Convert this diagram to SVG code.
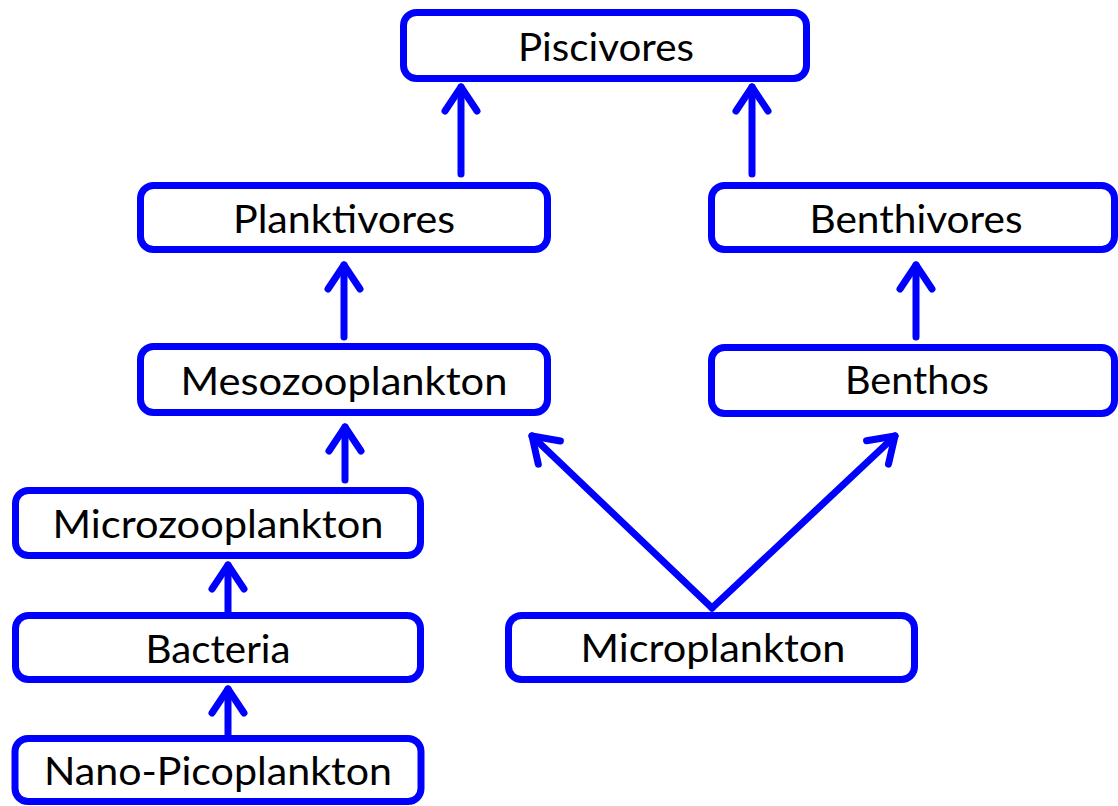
<svg xmlns="http://www.w3.org/2000/svg" width="1118" height="806" viewBox="0 0 1118 806">
  <style>
    .box { fill: #ffffff; stroke: #0000ff; stroke-width: 7; }
    .label { font-family: Lato, "Open Sans", "Liberation Sans", sans-serif; font-size: 39px; fill: #000000; text-anchor: middle; }
    .link { fill: none; stroke: #0000ff; stroke-width: 7; stroke-linecap: round; marker-end: url(#head); }
  </style>
  <defs>
    <!-- open chevron arrowhead, tip at the line end -->
    <marker id="head" markerUnits="userSpaceOnUse" orient="auto" viewBox="-30 -20 34 40" refX="0" refY="0" markerWidth="34" markerHeight="40" overflow="visible">
      <path d="M-24,-16 L0,0 L-24,16" fill="none" stroke="#0000ff" stroke-width="7" stroke-linecap="round" stroke-linejoin="round"/>
    </marker>
  </defs>
  <rect width="1118" height="806" fill="#ffffff"/>

  <g id="connectors">
    <path class="link" d="M461,174 L461,87"/>
    <path class="link" d="M752,174 L752,87"/>
    <path class="link" d="M344,337 L344,265"/>
    <path class="link" d="M916,337 L916,265"/>
    <path class="link" d="M345,480 L345,427"/>
    <path class="link" d="M228,612 L228,565"/>
    <path class="link" d="M228,735 L228,689"/>
    <path class="link" d="M712,608 L532,436"/>
    <path class="link" d="M712,608 L895,436"/>
  </g>

  <g id="piscivores">
    <rect class="box" x="403.5" y="12.5" width="403" height="66" rx="13"/>
    <text class="label" x="606" y="61" textLength="176" lengthAdjust="spacingAndGlyphs">Piscivores</text>
  </g>
  <g id="planktivores">
    <rect class="box" x="140.5" y="185.5" width="407" height="64" rx="13"/>
    <text class="label" x="344" y="233" textLength="222" lengthAdjust="spacingAndGlyphs">Planktivores</text>
  </g>
  <g id="benthivores">
    <rect class="box" x="711.5" y="185.5" width="403" height="64" rx="13"/>
    <text class="label" x="916" y="233" textLength="213" lengthAdjust="spacingAndGlyphs">Benthivores</text>
  </g>
  <g id="mesozooplankton">
    <rect class="box" x="140.5" y="346.5" width="407" height="66" rx="13"/>
    <text class="label" x="344" y="395" textLength="327" lengthAdjust="spacingAndGlyphs">Mesozooplankton</text>
  </g>
  <g id="benthos">
    <rect class="box" x="711.5" y="347.5" width="403" height="66" rx="13"/>
    <text class="label" x="917" y="394" textLength="144" lengthAdjust="spacingAndGlyphs">Benthos</text>
  </g>
  <g id="microzooplankton">
    <rect class="box" x="15.5" y="490.5" width="405" height="65" rx="13"/>
    <text class="label" x="218" y="538" textLength="331" lengthAdjust="spacingAndGlyphs">Microzooplankton</text>
  </g>
  <g id="bacteria">
    <rect class="box" x="15.5" y="615.5" width="405" height="64" rx="13"/>
    <text class="label" x="218" y="663" textLength="145" lengthAdjust="spacingAndGlyphs">Bacteria</text>
  </g>
  <g id="nano-picoplankton">
    <rect class="box" x="15" y="738.5" width="406" height="63" rx="13"/>
    <text class="label" x="218" y="785" textLength="348" lengthAdjust="spacingAndGlyphs">Nano-Picoplankton</text>
  </g>
  <g id="microplankton">
    <rect class="box" x="508.5" y="615.5" width="406" height="64" rx="13"/>
    <text class="label" x="713" y="662" textLength="265" lengthAdjust="spacingAndGlyphs">Microplankton</text>
  </g>
</svg>
